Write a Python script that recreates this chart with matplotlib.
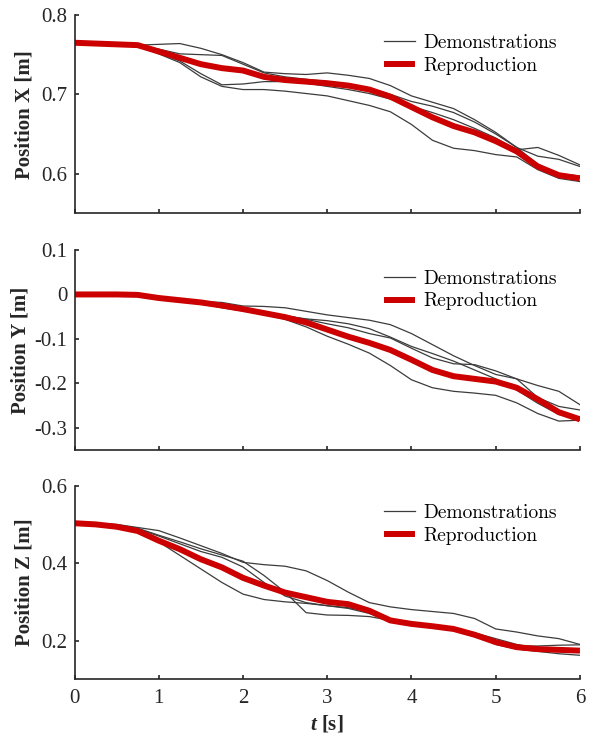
import numpy as np
import matplotlib.pyplot as plt

plt.rcParams['font.family'] = 'Liberation Serif'
plt.rcParams['axes.unicode_minus'] = False
plt.rcParams['mathtext.fontset'] = 'custom'
plt.rcParams['mathtext.it'] = 'Liberation Serif:italic:bold'

## -------------------------------- data --------------------------------
t = [0.0, 0.25, 0.5, 0.75, 1.0, 1.25, 1.5, 1.75, 2.0, 2.25, 2.5, 2.75, 3.0,
     3.25, 3.5, 3.75, 4.0, 4.25, 4.5, 4.75, 5.0, 5.25, 5.5, 5.75, 6.0]

# position X [m]
demo_x1 = [0.765, 0.764, 0.763, 0.762, 0.763, 0.764, 0.758, 0.750, 0.740, 0.728, 0.726, 0.725, 0.727,
           0.724, 0.720, 0.711, 0.698, 0.690, 0.682, 0.668, 0.652, 0.633, 0.622, 0.618, 0.609]
demo_x2 = [0.765, 0.764, 0.763, 0.762, 0.757, 0.751, 0.750, 0.749, 0.738, 0.727, 0.722, 0.719, 0.716,
           0.713, 0.708, 0.700, 0.691, 0.685, 0.677, 0.665, 0.650, 0.633, 0.612, 0.600, 0.597]
demo_x3 = [0.765, 0.764, 0.763, 0.761, 0.752, 0.742, 0.726, 0.712, 0.713, 0.716, 0.716, 0.714, 0.710,
           0.706, 0.701, 0.694, 0.685, 0.677, 0.668, 0.657, 0.645, 0.630, 0.633, 0.623, 0.611]
demo_x4 = [0.765, 0.764, 0.763, 0.761, 0.751, 0.740, 0.722, 0.710, 0.706, 0.706, 0.704, 0.701, 0.698,
           0.692, 0.686, 0.678, 0.662, 0.642, 0.632, 0.629, 0.624, 0.621, 0.605, 0.594, 0.590]
repro_x = [0.765, 0.764, 0.763, 0.762, 0.754, 0.746, 0.738, 0.733, 0.730, 0.722, 0.718, 0.716, 0.714,
           0.711, 0.706, 0.697, 0.684, 0.671, 0.660, 0.652, 0.641, 0.628, 0.609, 0.598, 0.594]

# position Y [m]
demo_y1 = [0.0, 0.0, 0.0, 0.0, -0.007, -0.012, -0.016, -0.018, -0.026, -0.027, -0.030, -0.038, -0.046,
           -0.052, -0.058, -0.068, -0.088, -0.113, -0.138, -0.160, -0.180, -0.190, -0.205, -0.218, -0.248]
demo_y2 = [0.0, 0.0, 0.0, 0.0, -0.008, -0.013, -0.018, -0.024, -0.032, -0.040, -0.048, -0.056, -0.066,
           -0.075, -0.088, -0.098, -0.121, -0.143, -0.156, -0.158, -0.172, -0.190, -0.232, -0.252, -0.260]
demo_y3 = [0.0, 0.0, 0.0, 0.0, -0.008, -0.013, -0.020, -0.030, -0.037, -0.045, -0.056, -0.073, -0.094,
           -0.112, -0.132, -0.160, -0.192, -0.210, -0.218, -0.222, -0.227, -0.244, -0.268, -0.285, -0.283]
demo_y4 = [0.0, 0.0, 0.0, 0.0, -0.008, -0.013, -0.018, -0.022, -0.030, -0.038, -0.048, -0.055, -0.059,
           -0.066, -0.077, -0.096, -0.117, -0.133, -0.150, -0.170, -0.190, -0.215, -0.245, -0.270, -0.280]
repro_y = [0.0, 0.0, 0.0, -0.001, -0.008, -0.013, -0.018, -0.025, -0.033, -0.042, -0.051, -0.063, -0.079,
           -0.095, -0.109, -0.125, -0.147, -0.170, -0.184, -0.190, -0.196, -0.210, -0.236, -0.265, -0.281]

# position Z [m]
demo_z1 = [0.503, 0.502, 0.500, 0.492, 0.484, 0.465, 0.445, 0.425, 0.402, 0.396, 0.392, 0.380, 0.355,
           0.325, 0.298, 0.287, 0.280, 0.275, 0.270, 0.257, 0.230, 0.222, 0.212, 0.205, 0.190]
demo_z2 = [0.503, 0.502, 0.499, 0.490, 0.472, 0.455, 0.437, 0.421, 0.405, 0.368, 0.325, 0.272, 0.266,
           0.265, 0.262, 0.252, 0.243, 0.236, 0.228, 0.215, 0.198, 0.186, 0.186, 0.188, 0.189]
demo_z3 = [0.503, 0.501, 0.497, 0.487, 0.455, 0.420, 0.385, 0.350, 0.320, 0.306, 0.300, 0.296, 0.290,
           0.283, 0.270, 0.250, 0.243, 0.236, 0.228, 0.214, 0.190, 0.178, 0.172, 0.166, 0.162]
demo_z4 = [0.503, 0.501, 0.498, 0.489, 0.470, 0.450, 0.430, 0.415, 0.390, 0.350, 0.315, 0.298, 0.290,
           0.285, 0.275, 0.255, 0.245, 0.238, 0.232, 0.220, 0.205, 0.190, 0.180, 0.172, 0.170]
repro_z = [0.503, 0.500, 0.494, 0.483, 0.458, 0.436, 0.410, 0.389, 0.362, 0.342, 0.324, 0.312, 0.300,
           0.294, 0.277, 0.252, 0.243, 0.237, 0.230, 0.215, 0.196, 0.183, 0.178, 0.176, 0.174]

panels = [
    ('Position X [m]', [demo_x1, demo_x2, demo_x3, demo_x4], repro_x, (0.55, 0.8), [0.6, 0.7, 0.8], ['0.6', '0.7', '0.8']),
    ('Position Y [m]', [demo_y1, demo_y2, demo_y3, demo_y4], repro_y, (-0.35, 0.1), [-0.3, -0.2, -0.1, 0, 0.1],
     ['-0.3', '-0.2', '-0.1', '0', '0.1']),
    ('Position Z [m]', [demo_z1, demo_z2, demo_z3, demo_z4], repro_z, (0.1, 0.6), [0.2, 0.4, 0.6], ['0.2', '0.4', '0.6']),
]
t_ticks = [0, 1, 2, 3, 4, 5, 6]

## -------------------------------- plotting --------------------------------
fig = plt.figure(figsize=(5.96, 7.39), dpi=100)
boxes = [(0.125, 0.7114, 0.848, 0.2683),
         (0.125, 0.3911, 0.848, 0.2706),
         (0.125, 0.0808, 0.848, 0.2620)]
label_x = [-0.080, -0.088, -0.080]
ink = '#262626'

for i, (name, demos, repro, ylim, yt, ytl) in enumerate(panels):
    ax = fig.add_axes(boxes[i])
    for k, d in enumerate(demos):
        ax.plot(t, d, color='#3c3c3c', lw=0.9, label='Demonstrations' if k == 0 else None)
    ax.plot(t, repro, color='#cc0000', lw=4.3, solid_capstyle='butt', label='Reproduction')

    ax.set_xlim(0, 6)
    ax.set_ylim(*ylim)
    ax.set_yticks(yt)
    ax.set_yticklabels(ytl)
    ax.set_xticks(t_ticks)
    if i < 2:
        ax.set_xticklabels([])
    else:
        ax.set_xticklabels([str(v) for v in t_ticks])
        ax.set_xlabel(r'$\mathit{t}$ [s]', fontsize=15, fontweight='bold', color=ink, labelpad=4)

    for side in ['top', 'right']:
        ax.spines[side].set_visible(False)
    for side in ['left', 'bottom']:
        ax.spines[side].set_linewidth(1.2)
        ax.spines[side].set_color(ink)
    ax.tick_params(direction='in', length=3.2, width=1.2, colors=ink, labelsize=15, pad=5)
    ax.tick_params(axis='x', pad=7)

    ax.set_ylabel(name, fontsize=15, fontweight='bold', color=ink)
    ax.yaxis.set_label_coords(label_x[i], 0.5)

    ax.legend(loc='center left', bbox_to_anchor=(0.613, 0.80), frameon=False, borderpad=0, borderaxespad=0,
              handlelength=1.6, handletextpad=0.4, labelspacing=0.25, prop={'family': 'cmr10', 'size': 14})

plt.savefig('out.png', dpi=100)
